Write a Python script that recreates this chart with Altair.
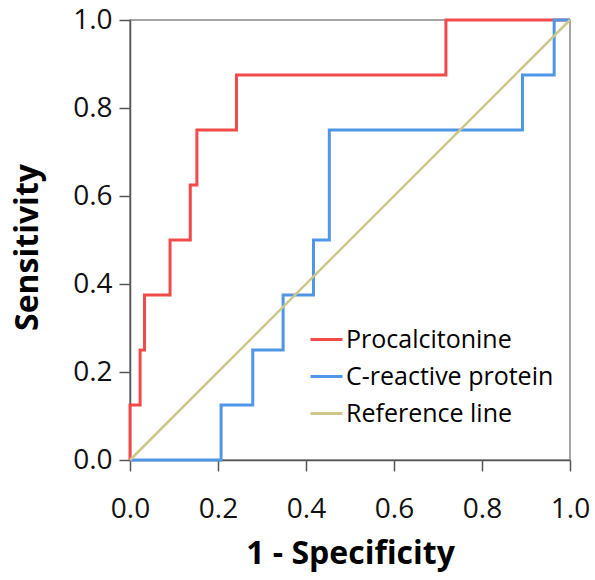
import altair as alt
import pandas as pd

# ROC curve vertices (1 - specificity, sensitivity)
pct_fpr = [0.0, 0.0, 0.023, 0.033, 0.091, 0.137, 0.152, 0.242, 0.718, 1.0]
pct_tpr = [0.0, 0.125, 0.25, 0.375, 0.5, 0.625, 0.75, 0.875, 1.0, 1.0]
crp_fpr = [0.0, 0.207, 0.279, 0.348, 0.417, 0.453, 0.892, 0.964, 1.0]
crp_tpr = [0.0, 0.125, 0.25, 0.375, 0.5, 0.75, 0.875, 1.0, 1.0]
ref_x = [0.0, 1.0]
ref_y = [0.0, 1.0]

series = ["Procalcitonine", "C-reactive protein", "Reference line"]
colors = ["#f24a4a", "#5096e6", "#cdc78c"]
tick_values = [0.0, 0.2, 0.4, 0.6, 0.8, 1.0]

rows = []
for i, (x, y) in enumerate(zip(pct_fpr, pct_tpr)):
    rows.append({"curve": series[0], "idx": i, "x": x, "y": y})
for i, (x, y) in enumerate(zip(crp_fpr, crp_tpr)):
    rows.append({"curve": series[1], "idx": i, "x": x, "y": y})
roc = pd.DataFrame(rows)
ref = pd.DataFrame({"curve": series[2], "idx": [0, 1], "x": ref_x, "y": ref_y})

FONT = "Open Sans"

xenc = alt.X("x:Q", scale=alt.Scale(domain=[0, 1], nice=False),
             axis=alt.Axis(values=tick_values, format=".1f", title="1 - Specificity",
                           labelFontSize=28, titleFontSize=32, titleFontWeight="bold",
                           tickSize=11, labelPadding=24, titlePadding=15,
                           labelFlush=False, labelOverlap=False,
                           domainColor="#555555", tickColor="#555555", domainWidth=1.5, tickWidth=1.5,
                           labelColor="#111111", titleColor="#000000", grid=False,
                           labelFont=FONT, titleFont=FONT))
yenc = alt.Y("y:Q", scale=alt.Scale(domain=[0, 1], nice=False),
             axis=alt.Axis(values=tick_values, format=".1f", title="Sensitivity",
                           labelFontSize=28, titleFontSize=32, titleFontWeight="bold",
                           tickSize=11, labelPadding=7, titlePadding=28, titleY=227,
                           labelFlush=False, labelOverlap=False,
                           domainColor="#555555", tickColor="#555555", domainWidth=1.5, tickWidth=1.5,
                           labelColor="#111111", titleColor="#000000", grid=False,
                           labelFont=FONT, titleFont=FONT))

color = alt.Color("curve:N", scale=alt.Scale(domain=series, range=colors),
                  legend=alt.Legend(orient="none", legendX=179, legendY=302, title=None,
                                    symbolType="stroke", symbolSize=1024, symbolStrokeWidth=3,
                                    labelFontSize=25, labelFont=FONT, labelColor="#000000",
                                    labelLimit=400, rowPadding=6, labelOffset=2))

roc_lines = alt.Chart(roc).mark_line(interpolate="step-after", strokeWidth=3).encode(
    x=xenc, y=yenc, color=color, order="idx:Q")
ref_line = alt.Chart(ref).mark_line(strokeWidth=2.5).encode(
    x="x:Q", y="y:Q", color=alt.Color("curve:N"), order="idx:Q")

chart = alt.layer(roc_lines, ref_line).properties(
    width=440, height=440,
    autosize=alt.AutoSizeParams(type="none"),
    padding={"left": 130, "top": 20, "right": 25, "bottom": 120},
    background="white",
).configure_view(stroke="#888888", strokeWidth=1.5)

chart.save("out.html", embed_options={"renderer": "svg", "actions": False})
